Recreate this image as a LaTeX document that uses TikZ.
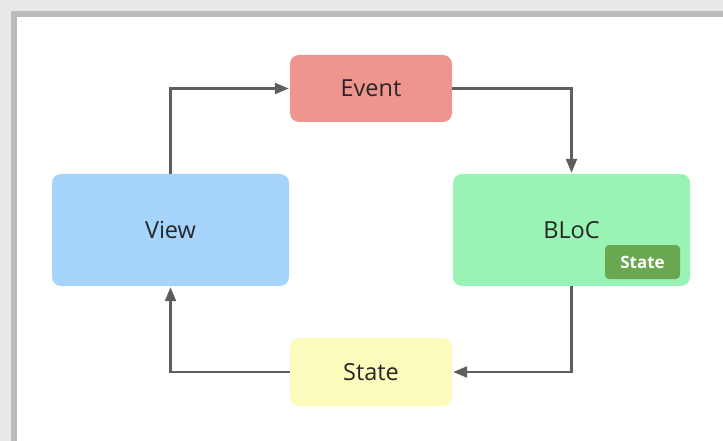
\documentclass[tikz,border=0pt]{standalone}
\usepackage{fontspec}
\setmainfont{Open Sans}
\usetikzlibrary{arrows.meta}
\definecolor{evt}{HTML}{EE9590}
\definecolor{viewc}{HTML}{A6D4FA}
\definecolor{blocc}{HTML}{98F3B4}
\definecolor{statec}{HTML}{FCFCBC}
\definecolor{badge}{HTML}{6AA84F}
\definecolor{arr}{HTML}{5E5E5E}
\definecolor{frameA}{HTML}{E8E8E8}
\definecolor{frameB}{HTML}{BBBBBB}
\tikzset{
  box/.style={rounded corners=9pt, inner sep=0pt, font=\fontsize{23.5}{26}\selectfont, text=black!85},
  conn/.style={draw=arr, line width=2.3pt, shorten >=1pt, -{Triangle[length=14pt,width=11pt]}},
}
\begin{document}
\begin{tikzpicture}[x=1pt,y=-1pt]
\useasboundingbox (0,0) rectangle (723,441);
\fill[frameA] (0,0) rectangle (723,441);
\fill[frameB] (11,11) rectangle (723,441);
\fill[white] (17,17) rectangle (723,441);
\node[box, fill=evt, minimum width=162pt, minimum height=67pt] (event) at (371,88.5) {Event};
\node[box, fill=viewc, minimum width=237pt, minimum height=112pt] (view) at (170.5,230) {View};
\node[box, fill=blocc, minimum width=237pt, minimum height=112pt] (bloc) at (571.5,230) {BLoC};
\node[rounded corners=4pt, fill=badge, minimum width=75pt, minimum height=34pt, inner sep=0pt, text=white, font=\bfseries\fontsize{17}{19}\selectfont] (badge) at (642.5,262) {State};
\node[box, fill=statec, minimum width=162pt, minimum height=68pt] (state) at (371,372) {State};
\draw[conn] (view.north) |- (event.west);
\draw[conn] (event.east) -| (bloc.north);
\draw[conn] (bloc.south) |- (state.east);
\draw[conn] (state.west) -| (view.south);
\end{tikzpicture}
\end{document}
